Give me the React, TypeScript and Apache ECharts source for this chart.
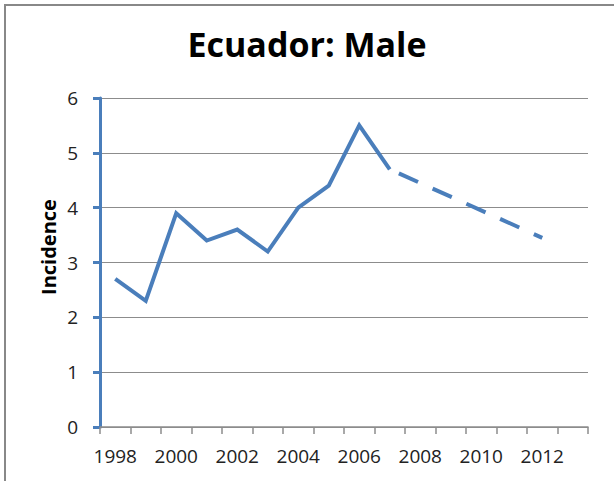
import React, { useEffect, useRef } from "react";
import * as echarts from "echarts";

const years = ["1998","1999","2000","2001","2002","2003","2004","2005","2006","2007","2008","2009","2010","2011","2012","2013"];
const observed = [2.7, 2.3, 3.9, 3.4, 3.6, 3.2, 4.0, 4.4, 5.5, 4.7, null, null, null, null, null, null];
const projected = [null, null, null, null, null, null, null, null, null, 4.7, null, null, null, null, 3.45, null];
const yTicks = { min: 0, max: 6, interval: 1 };
const titleText = "Ecuador: Male";
const yName = "Incidence";

const BLUE = "#4a7ebb";
const GRAY = "#8c8c8c";
const FONT = "Open Sans";

export default function App() {
  const ref = useRef<HTMLDivElement>(null);
  useEffect(() => {
    const chart = echarts.init(ref.current!, null, { renderer: "svg" });
    chart.setOption({
      animation: false,
      backgroundColor: "#ffffff",
      title: {
        text: titleText,
        left: "center",
        top: 22,
        textStyle: { fontFamily: FONT, fontSize: 34, fontWeight: "bold", color: "#000" },
      },
      graphic: [
        {
          type: "rect",
          shape: { x: 5, y: 5, width: 700, height: 600 },
          style: { fill: "none", stroke: "#888888", lineWidth: 2 },
          silent: true,
        },
        {
          type: "text",
          x: 48,
          y: 247,
          rotation: Math.PI / 2,
          style: {
            text: yName,
            fontFamily: FONT,
            fontSize: 20,
            fontWeight: "bold",
            fill: "#000",
            align: "center",
            verticalAlign: "middle",
          },
        },
      ],
      grid: { left: 100, right: 26, top: 98, bottom: 54 },
      xAxis: {
        type: "category",
        data: years,
        boundaryGap: true,
        axisLine: { lineStyle: { color: GRAY, width: 1.5 } },
        axisTick: { show: true, interval: 0, length: 7, lineStyle: { color: GRAY, width: 1.5 } },
        axisLabel: { interval: 1, margin: 19, fontFamily: FONT, fontSize: 19, color: "#222" },
        splitLine: { show: false },
      },
      yAxis: {
        type: "value",
        min: yTicks.min,
        max: yTicks.max,
        interval: yTicks.interval,
        axisLine: { show: true, lineStyle: { color: BLUE, width: 3 } },
        axisTick: { show: true, length: 7, lineStyle: { color: BLUE, width: 3 } },
        axisLabel: { margin: 22, fontFamily: FONT, fontSize: 19, color: "#222" },
        splitLine: { show: true, lineStyle: { color: GRAY, width: 1 } },
      },
      series: [
        {
          type: "line",
          data: observed,
          showSymbol: false,
          symbol: "none",
          lineStyle: { color: BLUE, width: 4, cap: "butt", join: "miter" },
          z: 3,
        },
        {
          type: "line",
          data: projected,
          connectNulls: true,
          showSymbol: false,
          symbol: "none",
          lineStyle: { color: BLUE, width: 4, type: [21, 16], dashOffset: 27, cap: "butt" },
          z: 3,
        },
      ],
    });
    return () => chart.dispose();
  }, []);
  return <div ref={ref} style={{ position: "fixed", left: 0, top: 0, width: 614, height: 481 }} />;
}
